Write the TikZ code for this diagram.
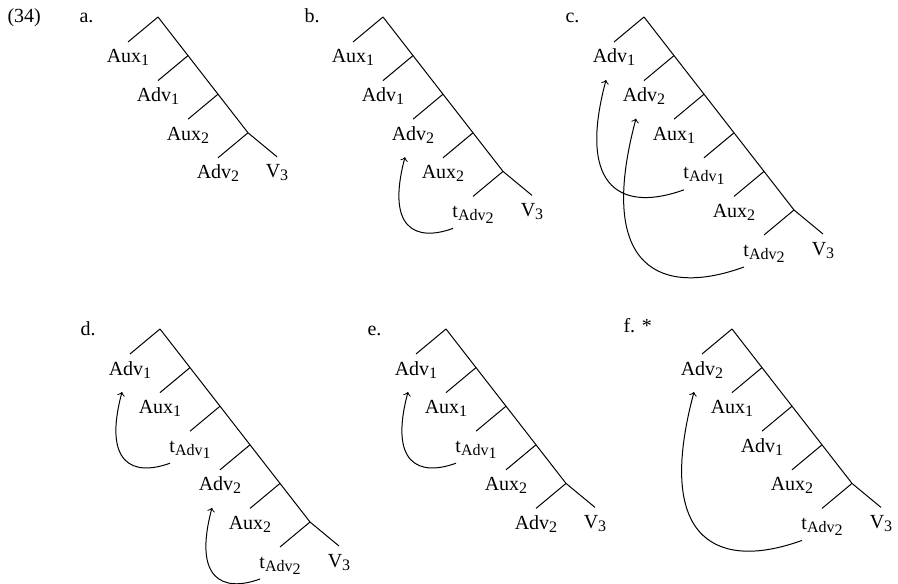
\documentclass[tikz,border=0pt]{standalone}
\usepackage{fontspec}
\setmainfont{Liberation Serif}
\usetikzlibrary{calc}
\newcommand{\tsub}[2]{#1\raisebox{-1.5pt}{\fontsize{8}{9}\selectfont #2}}
\tikzset{
  leaf/.style={anchor=base,inner sep=0pt},
  tag/.style={anchor=base west,inner sep=0pt},
  mv/.style={->},
}
% one right-branching tree: name, top point, last junction, left leaves
\newcommand{\spinetree}[4]{%
  \begin{scope}[shift={#2}]
    \coordinate (#1top) at (0,0);
    \coordinate (#1low) at (#3*30,-#3*38.6);
    \draw (#1top) -- (#1low) -- ++(29,-24) ++(0,-21) node[leaf] (#1V) {\tsub{V}{3}};
    \foreach \lab [count=\i from 0] in {#4}
      \draw (\i*30,-\i*38.6) -- ++(-30,-25) ++(0,-21) node[leaf] (#1\i) {\lab};
  \end{scope}}
% movement arrow from trace to moved item
\newcommand{\movearrow}[2]{%
  \draw[mv] ([shift={(-20,-11)}]#1.base) to[out=200,in=255,out looseness=1.2,in looseness=2.2] ([shift={(-8,-17)}]#2.base);}

\begin{document}
\begin{tikzpicture}[x=0.5pt,y=0.5pt,line width=0.5pt]
    \useasboundingbox (0,0) rectangle (898,-583);
    \node[tag] (num) at (7,-23) {(34)};
    \node[tag] (la) at (79,-23) {a.};
    \node[tag] (lb) at (304,-23) {b.};
    \node[tag] (lc) at (565,-23) {c.};
    \node[tag] (ld) at (80,-335) {d.};
    \node[tag] (le) at (367,-335) {e.};
    \node[tag] (lf) at (623,-332) {f. *};

    \spinetree{a}{(158,-17)}{3}{\tsub{Aux}{1},\tsub{Adv}{1},\tsub{Aux}{2},\tsub{Adv}{2}}
    \spinetree{b}{(383,-17)}{4}{\tsub{Aux}{1},\tsub{Adv}{1},\tsub{Adv}{2},\tsub{Aux}{2},\tsub{t}{\tsub{Adv}{2}}}
    \spinetree{c}{(644,-17)}{5}{\tsub{Adv}{1},\tsub{Adv}{2},\tsub{Aux}{1},\tsub{t}{\tsub{Adv}{1}},\tsub{Aux}{2},\tsub{t}{\tsub{Adv}{2}}}
    \spinetree{d}{(160,-329)}{5}{\tsub{Adv}{1},\tsub{Aux}{1},\tsub{t}{\tsub{Adv}{1}},\tsub{Adv}{2},\tsub{Aux}{2},\tsub{t}{\tsub{Adv}{2}}}
    \spinetree{e}{(446,-329)}{4}{\tsub{Adv}{1},\tsub{Aux}{1},\tsub{t}{\tsub{Adv}{1}},\tsub{Aux}{2},\tsub{Adv}{2}}
    \spinetree{f}{(732,-329)}{4}{\tsub{Adv}{2},\tsub{Aux}{1},\tsub{Adv}{1},\tsub{Aux}{2},\tsub{t}{\tsub{Adv}{2}}}

    \movearrow{b4}{b2}
    \movearrow{c3}{c0}
    \movearrow{c5}{c1}
    \movearrow{d2}{d0}
    \movearrow{d5}{d3}
    \movearrow{e2}{e0}
    \movearrow{f4}{f0}
\end{tikzpicture}
\end{document}
